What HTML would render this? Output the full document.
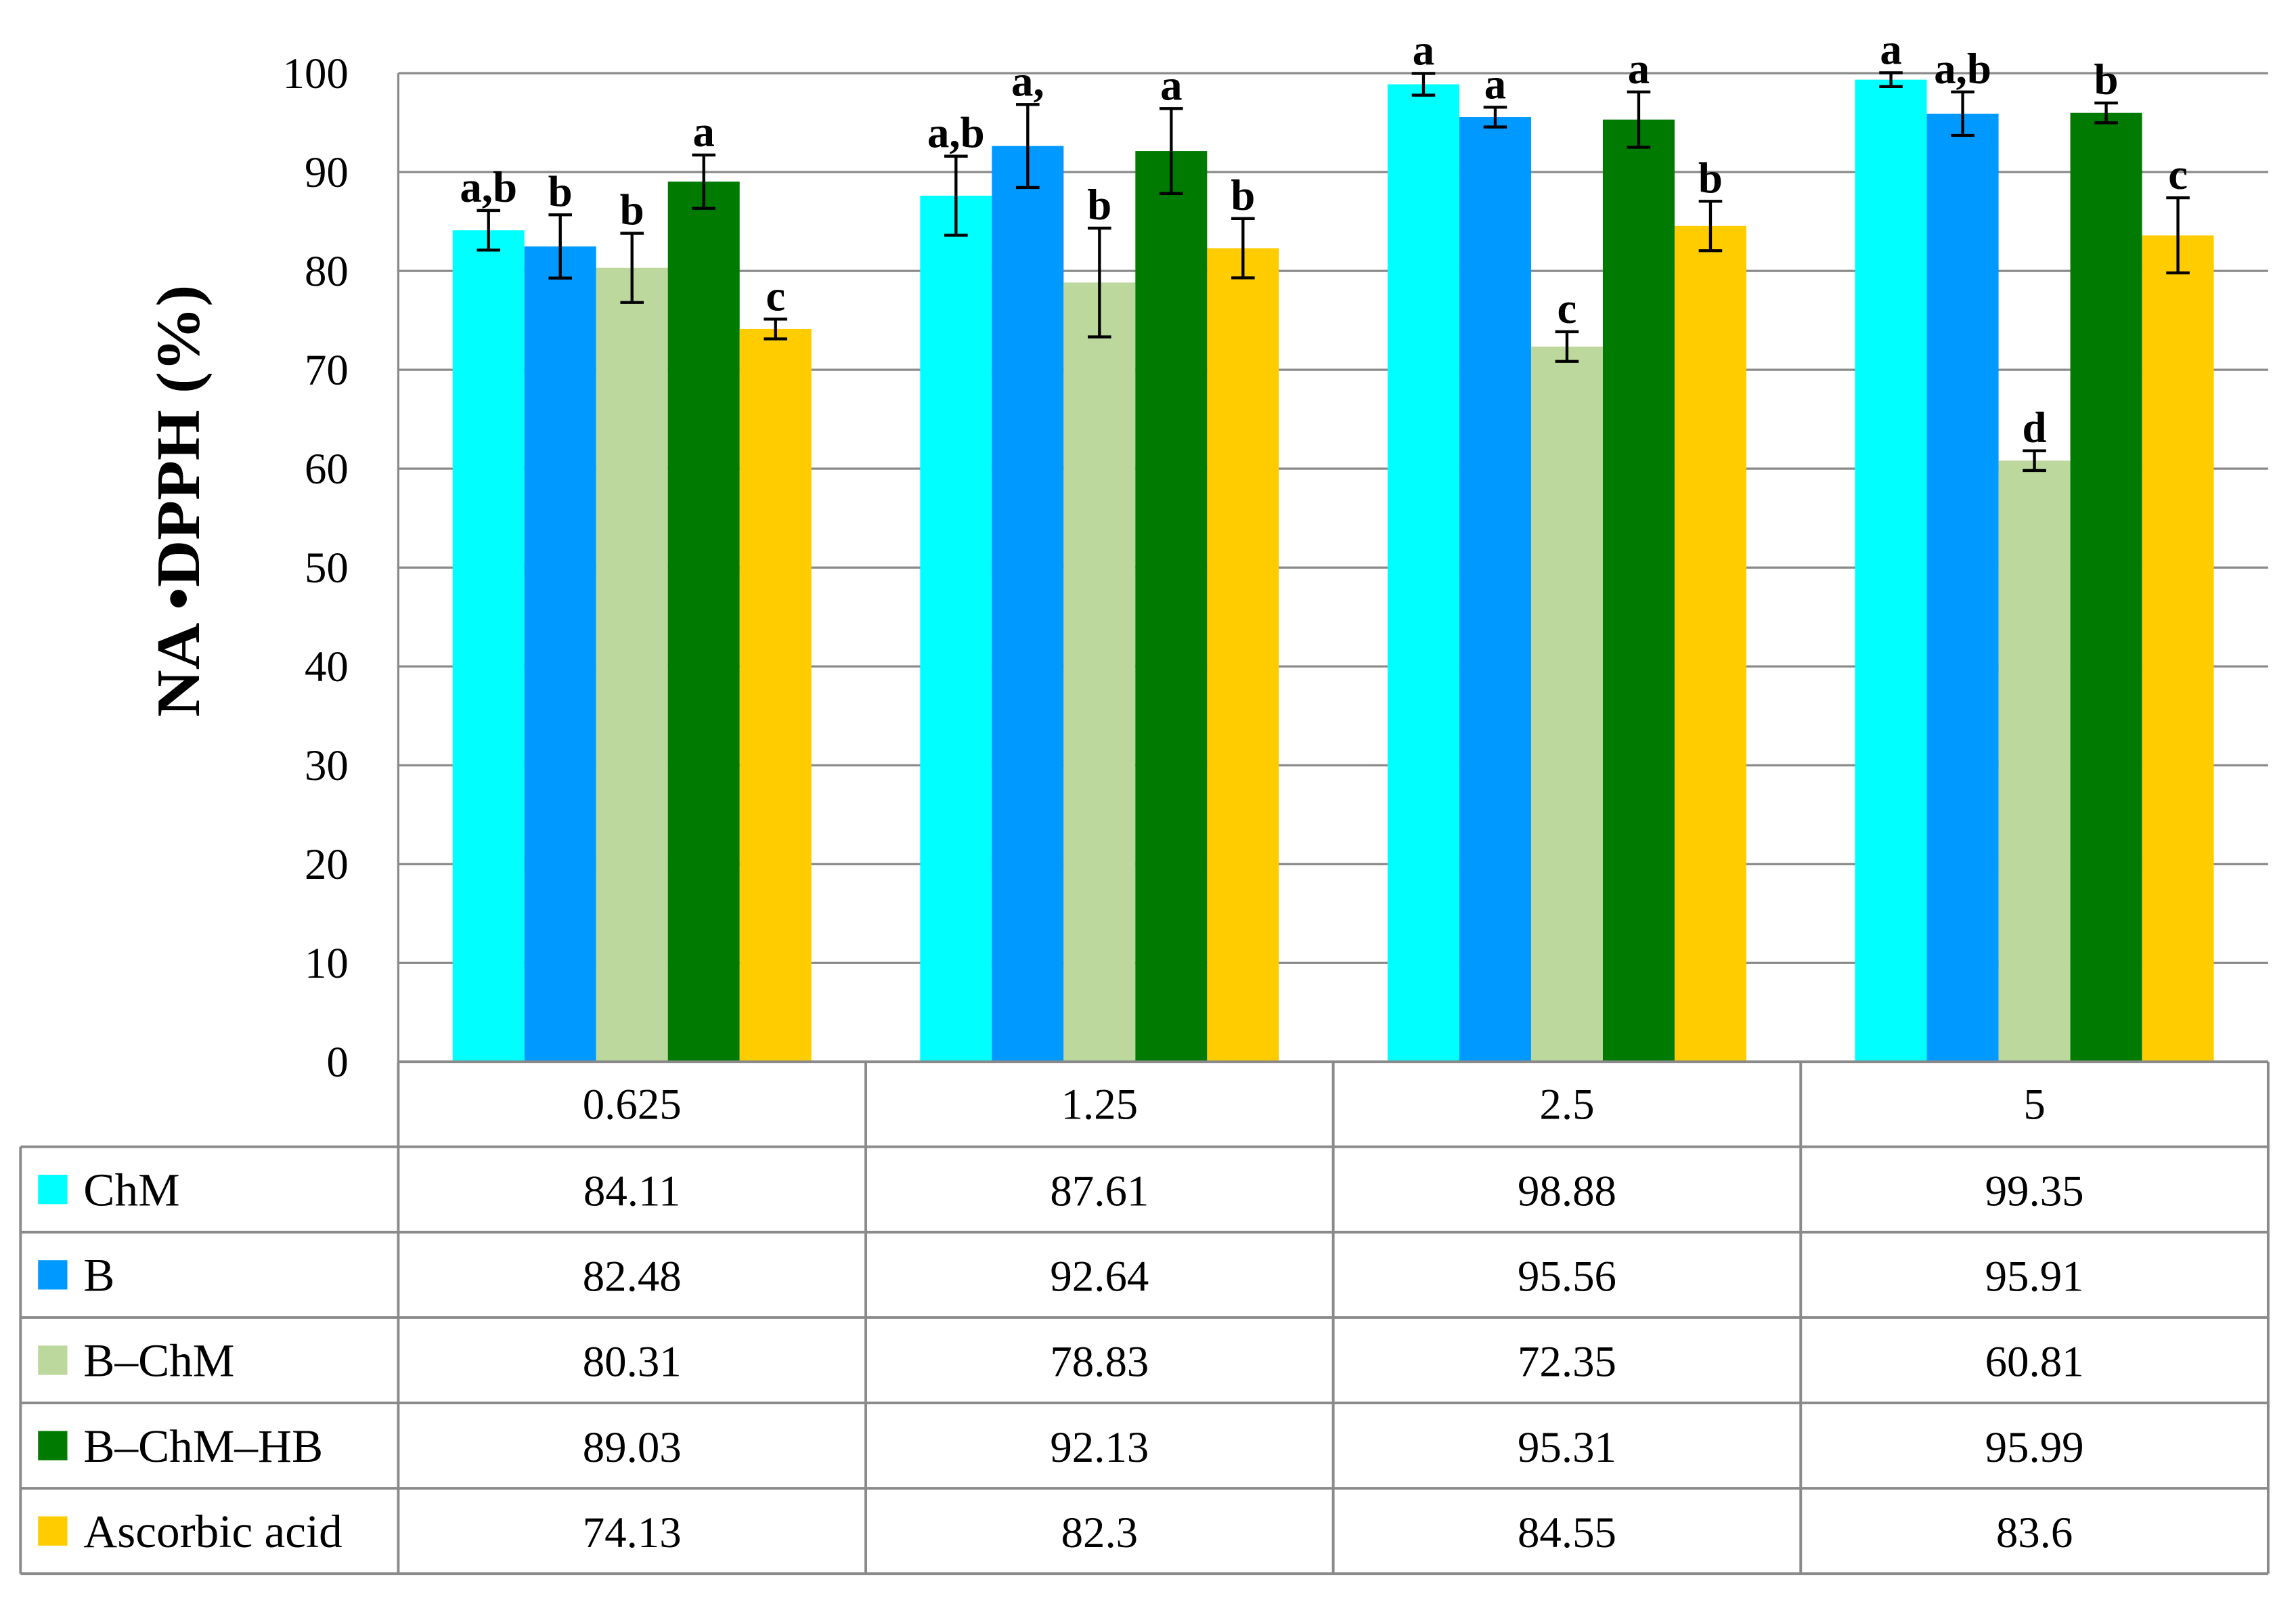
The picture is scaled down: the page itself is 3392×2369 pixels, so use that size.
<!DOCTYPE html>
<html><head><meta charset="utf-8"><style>
html,body{margin:0;padding:0;background:#fff;}
svg{display:block;font-family:"Liberation Serif",serif;}
</style></head><body>
<svg id="chart" width="3392" height="2369" viewBox="0 0 1568 1095.2" preserveAspectRatio="none" xmlns="http://www.w3.org/2000/svg">
<g id="grid"></g>
<g id="bars"></g>
<g id="errs"></g>
<g id="letters"></g>
<g id="ticks"></g>
<text transform="translate(136,342) rotate(-90)" text-anchor="middle" font-size="42" font-weight="bold" fill="#000" textLength="295" lengthAdjust="spacingAndGlyphs">NA •DPPH (%)</text>
<g id="table"></g>
</svg>
<script>
const categories = ["0.625","1.25","2.5","5"];
const seriesNames = ["ChM","B","B–ChM","B–ChM–HB","Ascorbic acid"];
const seriesColors = ["#00FFFF","#0099FF","#BDD89C","#007A00","#FFCC00"];
const valsChM = [84.11,87.61,98.88,99.35];
const valsB = [82.48,92.64,95.56,95.91];
const valsBChM = [80.31,78.83,72.35,60.81];
const valsHB = [89.03,92.13,95.31,95.99];
const valsAA = [74.13,82.3,84.55,83.6];
const errChM = [2,4,1.1,0.7];
const errB = [3.2,4.2,1,2.2];
const errBChM = [3.5,5.5,1.5,1];
const errHB = [2.7,4.3,2.8,1];
const errAA = [1,3,2.5,3.8];
const lettersChM = ["a,b","a,b","a","a"];
const lettersB = ["b","a,","a","a,b"];
const lettersBChM = ["b","b","c","d"];
const lettersHB = ["a","a","a","b"];
const lettersAA = ["c","b","b","c"];
const yTicks = [0,10,20,30,40,50,60,70,80,90,100];

const values=[valsChM,valsB,valsBChM,valsHB,valsAA];
const errs=[errChM,errB,errBChM,errHB,errAA];
const letters=[lettersChM,lettersB,lettersBChM,lettersHB,lettersAA];
const NS="http://www.w3.org/2000/svg";
const L=272,R=1549,T=50,B=725,TL=14;
const y=v=>B-(v/100)*(B-T);
const gw=(R-L)/categories.length, bw=49;
const gx=i=>L+gw*(i+0.5);
const bx=(i,s)=>gx(i)-bw*2.5+s*bw;
function mk(tag,attrs,parent){const e=document.createElementNS(NS,tag);for(const k in attrs)e.setAttribute(k,attrs[k]);document.getElementById(parent).appendChild(e);return e;}

yTicks.forEach(t=>{
  const g=mk('line',{x1:L,x2:R,y1:y(t),y2:y(t),stroke:'#8a8a8a','stroke-width':1.5},'grid');
  
  
  const tx=mk('text',{x:238,y:y(t)+10,'text-anchor':'end','font-size':30,fill:'#000'},'ticks');
  tx.textContent=t;
  
  
});
const ax=mk('line',{x1:L,x2:L,y1:T,y2:B,stroke:'#8a8a8a','stroke-width':1.5},'grid');



values.forEach((arr,s)=>{
  arr.forEach((v,i)=>{
    const x=bx(i,s);
    const r=mk('rect',{x:x,y:y(v),width:bw,height:B-y(v),fill:seriesColors[s]},'bars');
    
    
    const cx=x+bw/2, e=errs[s][i], top=y(v+e), bot=y(v-e);
    const p=mk('path',{d:`M${cx-8},${top}H${cx+8}M${cx},${top}V${bot}M${cx-8},${bot}H${cx+8}`,stroke:'#000','stroke-width':2,fill:'none'},'errs');
    
    
    const lt=mk('text',{x:cx,y:top-6,'text-anchor':'middle','font-size':30,'font-weight':'bold',fill:'#000'},'letters');
    lt.textContent=letters[s][i];
    
    
  });
});

// table
const rowH=58.3, rows=[725,783];
for(let k=1;k<=5;k++)rows.push(783+k*rowH);
const tstroke={stroke:'#8a8a8a','stroke-width':1.8};
function tl(a,n){const l=mk('line',Object.assign(a,tstroke),'table');}
tl({x1:L,x2:R,y1:725,y2:725},'table-top-line');
rows.slice(1).forEach((ry,k)=>tl({x1:TL,x2:R,y1:ry,y2:ry},'table-row-line-'+k));
tl({x1:TL,x2:TL,y1:783,y2:rows[6]},'table-left-line');
for(let c=0;c<=categories.length;c++){
  const x=L+gw*c;
  tl({x1:x,x2:x,y1:725,y2:rows[6]},'table-col-line-'+c);
}
categories.forEach((c,i)=>{
  const t=mk('text',{x:gx(i),y:764,'text-anchor':'middle','font-size':30,fill:'#000'},'table');
  t.textContent=c;
  
  
});
seriesNames.forEach((n,s)=>{
  const ry=783+s*rowH, cy=ry+rowH/2;
  const sq=mk('rect',{x:26,y:cy-10,width:20,height:20,fill:seriesColors[s]},'table');
  
  
  const t=mk('text',{x:57,y:cy+11,'font-size':32,fill:'#000'},'table');
  t.textContent=n;
  
  
  values[s].forEach((v,i)=>{
    const c=mk('text',{x:gx(i),y:cy+11,'text-anchor':'middle','font-size':30,fill:'#000'},'table');
    c.textContent=v;
    
    
  });
});
</script>
</body></html>
